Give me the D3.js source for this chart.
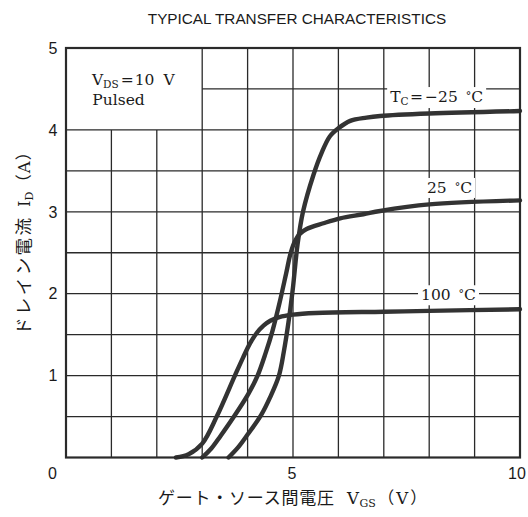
<!DOCTYPE html>
<html>
<head>
<meta charset="utf-8">
<script src="https://cdn.jsdelivr.net/npm/d3@7"></script>
<style>
  body { margin: 0; background: #fff; }
  svg { display: block; }
</style>
</head>
<body>
<div id="chart"></div>
<script>
// curves: [VGS (V), ID (A)]
const curveMinus25 = [[3.58, 0], [3.8, 0.13], [4.0, 0.28], [4.3, 0.52], [4.5, 0.74], [4.69, 1.0], [4.8, 1.3], [4.9, 1.65], [5.0, 2.08], [5.1, 2.6], [5.22, 3.0], [5.45, 3.45], [5.63, 3.72], [5.81, 3.92], [6.0, 4.02], [6.26, 4.11], [6.62, 4.15], [6.92, 4.17], [8, 4.2], [10, 4.23]];
const curve25 = [[3.0, 0], [3.2, 0.11], [3.4, 0.26], [3.7, 0.5], [4.02, 0.78], [4.22, 1.0], [4.4, 1.28], [4.55, 1.55], [4.7, 1.88], [4.85, 2.25], [4.95, 2.5], [5.05, 2.65], [5.15, 2.73], [5.3, 2.79], [5.67, 2.86], [6.04, 2.92], [6.55, 2.97], [6.92, 3.01], [8, 3.09], [10, 3.14]];
const curve100 = [[2.42, 0], [2.7, 0.04], [3.0, 0.17], [3.32, 0.5], [3.72, 1.0], [3.9, 1.22], [4.05, 1.39], [4.2, 1.52], [4.35, 1.61], [4.5, 1.67], [4.7, 1.715], [5.0, 1.745], [5.5, 1.765], [7, 1.78], [8, 1.79], [10, 1.81]];

const yTicks = [1, 2, 3, 4, 5];
const xTicks = [5, 10];
const fullGridV = [3, 4, 5, 6, 7, 8, 9];   // run the whole height
const shortGridV = [1, 2];                  // stop under the legend box
const gridH = [0.5, 1, 1.5, 2, 2.5, 3, 3.5, 4];
const topGridH = 4.5;                       // only from 3 V to the right

(function () {
  const margin = { top: 48, right: 8, bottom: 59.5, left: 66 };
  const width = 528 - margin.left - margin.right;
  const height = 517 - margin.top - margin.bottom;

  const root = d3.select("#chart")
    .append("svg")
    .attr("width", 528)
    .attr("height", 517);

  const svg = root.append("g")
    .attr("transform", "translate(" + margin.left + "," + margin.top + ")");

  const x = d3.scaleLinear().domain([0, 10]).range([0, width]);
  const y = d3.scaleLinear().domain([0, 5]).range([height, 0]);

  const ink = "#2a2a2a";
  const txt = "#1a1a1a";
  const serif = "'DejaVu Serif', serif";
  const sans = "'Liberation Sans', Arial, sans-serif";
  const cjk = "'Noto Sans CJK JP', sans-serif";

  // grid
  const grid = svg.append("g").attr("stroke", ink).attr("stroke-width", 1.3);
  grid.selectAll(".vfull").data(fullGridV).enter().append("line")
    .attr("x1", d => x(d)).attr("x2", d => x(d))
    .attr("y1", y(0)).attr("y2", y(5));
  grid.selectAll(".vshort").data(shortGridV).enter().append("line")
    .attr("x1", d => x(d)).attr("x2", d => x(d))
    .attr("y1", y(0)).attr("y2", y(4));
  grid.selectAll(".h").data(gridH).enter().append("line")
    .attr("x1", x(0)).attr("x2", x(10))
    .attr("y1", d => y(d)).attr("y2", d => y(d));
  grid.append("line")
    .attr("x1", x(3)).attr("x2", x(10))
    .attr("y1", y(topGridH)).attr("y2", y(topGridH));

  // labels sitting on the grid get a white patch behind them
  function label(vx, iy, parts) {
    const g = svg.append("g");
    const t = g.append("text")
      .attr("x", x(vx)).attr("y", y(iy))
      .attr("font-family", serif).attr("font-size", 15.5).attr("fill", txt);
    parts.forEach(p => {
      const s = t.append("tspan").text(p.t);
      if (p.size) s.attr("font-size", p.size);
      if (p.dy) s.attr("dy", p.dy);
      if (p.dx) s.attr("dx", p.dx);
    });
    const b = t.node().getBBox();
    g.insert("rect", "text")
      .attr("x", b.x - 3).attr("y", b.y - 1)
      .attr("width", b.width + 6).attr("height", b.height + 2)
      .attr("fill", "#fff");
  }

  label(7.14, 4.34, [
    { t: "T" }, { t: "C", size: 10.5, dy: 3 },
    { t: "=", dy: -3, dx: 1.5 }, { t: "−25", dx: 2 },
    { t: "°", dx: 8, size: 11, dy: -2 }, { t: "C", dy: 2 }
  ]);
  label(7.95, 3.23, [{ t: "25" }, { t: "°", dx: 8, size: 11, dy: -2 }, { t: "C", dy: 2 }]);
  label(7.82, 1.92, [{ t: "100" }, { t: "°", dx: 8, size: 11, dy: -2 }, { t: "C", dy: 2 }]);

  // conditions in the top-left box
  const cond = svg.append("text")
    .attr("x", x(0.57)).attr("y", y(4.55))
    .attr("font-family", serif).attr("font-size", 15.5).attr("fill", txt);
  cond.append("tspan").text("V");
  cond.append("tspan").text("DS").attr("font-size", 10.5).attr("dy", 3);
  cond.append("tspan").text("=").attr("dy", -3).attr("dx", 2);
  cond.append("tspan").text("10").attr("dx", 1);
  cond.append("tspan").text("V").attr("dx", 9);
  svg.append("text")
    .attr("x", x(0.58)).attr("y", y(4.3))
    .attr("font-family", serif).attr("font-size", 15.5).attr("fill", txt)
    .text("Pulsed");

  // curves
  const line = d3.line()
    .x(d => x(d[0]))
    .y(d => y(d[1]))
    .curve(d3.curveCatmullRom.alpha(0.5));

  [curve100, curve25, curveMinus25].forEach(c => {
    svg.append("path")
      .datum(c)
      .attr("d", line)
      .attr("fill", "none")
      .attr("stroke", "#333")
      .attr("stroke-width", 4.4)
      .attr("stroke-linecap", "round")
      .attr("stroke-linejoin", "round");
  });

  // frame
  svg.append("rect")
    .attr("x", 0).attr("y", 0)
    .attr("width", width).attr("height", height)
    .attr("fill", "none").attr("stroke", ink).attr("stroke-width", 2.2);

  // tick labels
  svg.selectAll(".ytick").data(yTicks).enter().append("text")
    .attr("x", -8.5).attr("y", d => y(d)).attr("dy", "0.36em")
    .attr("text-anchor", "end")
    .attr("font-family", sans).attr("font-size", 16).attr("fill", txt)
    .text(d => d);
  svg.selectAll(".xtick").data(xTicks).enter().append("text")
    .attr("x", d => x(d)).attr("y", y(0) + 21)
    .attr("dx", d => d === 10 ? -3 : -1)
    .attr("text-anchor", "middle")
    .attr("font-family", sans).attr("font-size", 16).attr("fill", txt)
    .text(d => d);
  svg.append("text")
    .attr("x", x(0) - 9).attr("y", y(0) + 21)
    .attr("text-anchor", "end")
    .attr("font-family", sans).attr("font-size", 16).attr("fill", txt)
    .text("0");

  // titles
  root.append("text")
    .attr("x", 297).attr("y", 24)
    .attr("text-anchor", "middle")
    .attr("font-family", sans).attr("font-size", 15.3).attr("fill", txt)
    .text("TYPICAL TRANSFER CHARACTERISTICS");

  root.append("text")
    .attr("x", 158).attr("y", 504)
    .attr("font-family", cjk).attr("font-size", 17).attr("fill", txt)
    .attr("textLength", 176).attr("lengthAdjust", "spacing")
    .text("ゲート・ソース間電圧");
  const xu = root.append("text")
    .attr("x", 347).attr("y", 504)
    .attr("font-size", 16.5).attr("fill", txt);
  xu.append("tspan").attr("font-family", serif).text("V");
  xu.append("tspan").attr("font-family", serif).attr("font-size", 11).attr("dy", 3).attr("dx", 0.5).text("GS");
  xu.append("tspan").attr("font-family", cjk).attr("dy", -3).attr("dx", 2).text("（");
  xu.append("tspan").attr("font-family", serif).attr("dx", 2).text("V");
  xu.append("tspan").attr("font-family", cjk).attr("dx", 2).text("）");

  // y title, read bottom to top
  root.append("text")
    .attr("transform", "translate(30,335) rotate(-90)")
    .attr("font-family", cjk).attr("font-size", 17.5).attr("fill", txt)
    .attr("textLength", 117).attr("lengthAdjust", "spacing")
    .text("ドレイン電流");
  const yu = root.append("text")
    .attr("transform", "translate(30,207) rotate(-90)")
    .attr("font-size", 16.5).attr("fill", txt);
  yu.append("tspan").attr("font-family", serif).text("I");
  yu.append("tspan").attr("font-family", serif).attr("font-size", 11).attr("dy", 3).text("D");
  yu.append("tspan").attr("font-family", cjk).attr("dy", -3).attr("dx", 1).text("（");
  yu.append("tspan").attr("font-family", serif).attr("dx", 1).text("A");
  yu.append("tspan").attr("font-family", cjk).attr("dx", 1).text("）");
})();
</script>
</body>
</html>
